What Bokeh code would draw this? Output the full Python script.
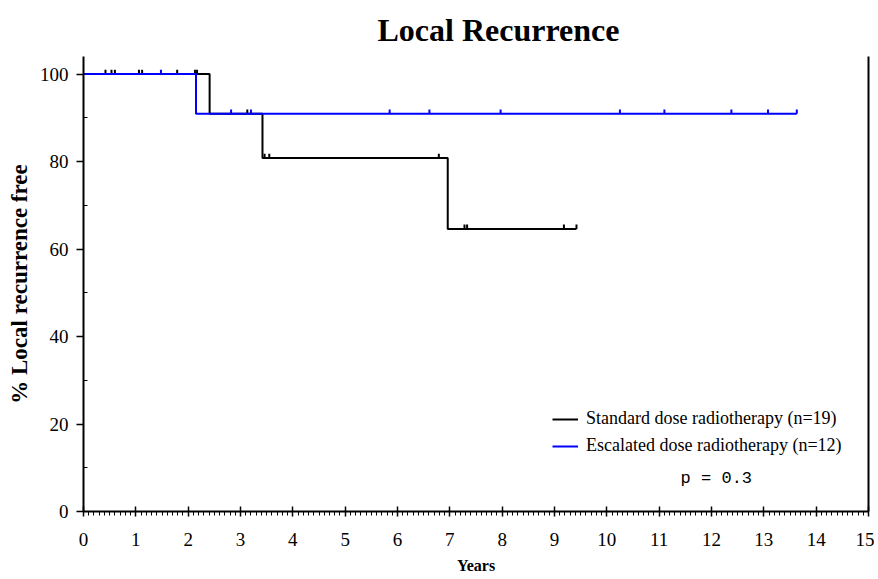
import numpy as np
from bokeh.plotting import figure
from bokeh.models import (Range1d, LinearAxis, Legend, LegendItem, Label, Title,
                          FixedTicker, SingleIntervalTicker)
from bokeh.embed import file_html
from bokeh.resources import INLINE

# ---- data ----
std_times = [0, 2.41, 3.42, 6.96, 9.42]
std_surv = [100, 90.9, 80.8, 64.6, 64.6]
std_cens = [0.42, 0.535, 0.60, 1.06, 1.12, 1.79, 2.13, 2.17, 3.13,
            3.46, 3.55, 6.79, 7.28, 7.33, 9.18, 9.42]

esc_times = [0, 2.15, 13.63]
esc_surv = [100, 90.9, 90.9]
esc_cens = [1.48, 2.82, 3.20, 5.85, 6.61, 7.97, 10.25, 11.10,
            12.38, 13.08, 13.63]

y_ticks = [0, 20, 40, 60, 80, 100]
y_minor = [10, 30, 50, 70, 90]

labels = ["Standard dose radiotherapy (n=19)", "Escalated dose radiotherapy (n=12)"]
colors = ["#000000", "#0000ff"]
title_text = "Local Recurrence"
p_text = "p = 0.3"

SERIF = "Liberation Serif"

p = figure(width=874, height=579, output_backend="svg",
           toolbar_location=None, x_range=Range1d(0, 15), y_range=Range1d(0, 104),
           min_border_left=83, min_border_top=56, min_border_right=6,
           min_border_bottom=68)
p.outline_line_color = None
p.xgrid.visible = False
p.ygrid.visible = False
p.background_fill_color = "white"
p.border_fill_color = "white"

p.title = Title(text=title_text, align="left", offset=294, standoff=18,
                text_font=SERIF, text_font_style="bold",
                text_font_size="32px", text_color="black")


def level_at(times, surv, t):
    i = np.searchsorted(times, t, side="right") - 1
    return surv[i]


renderers = []
for times, surv, cens, col in [(std_times, std_surv, std_cens, colors[0]),
                               (esc_times, esc_surv, esc_cens, colors[1])]:
    r = p.step(times, surv, mode="after", line_color=col, line_width=2)
    renderers.append(r)
    cy = [level_at(times, surv, t) for t in cens]
    tick_len = 1.0
    p.segment(x0=cens, x1=cens, y0=cy, y1=[v + tick_len for v in cy],
              line_color=col, line_width=2)

# axes
xa = p.xaxis[0]
xa.ticker = SingleIntervalTicker(interval=1, num_minor_ticks=10)
xa.axis_label = "Years"
ya = p.yaxis[0]
ya.ticker = FixedTicker(ticks=y_ticks, minor_ticks=y_minor)
ya.axis_label = "% Local recurrence free"

for ax in (xa, ya):
    ax.axis_line_width = 2
    ax.axis_line_color = "black"
    ax.major_tick_line_color = "black"
    ax.minor_tick_line_color = "black"
    ax.major_tick_line_width = 1.5
    ax.minor_tick_line_width = 1
    ax.major_label_text_font = SERIF
    ax.major_label_text_font_size = "19px"
    ax.major_label_text_color = "black"
    ax.axis_label_text_font = SERIF
    ax.axis_label_text_font_style = "bold"
    ax.axis_label_text_color = "black"

xa.major_tick_in = 5
xa.major_tick_out = 5
xa.minor_tick_in = 0
xa.minor_tick_out = 4
xa.major_label_standoff = 16
xa.axis_label_text_font_size = "16px"
xa.axis_label_standoff = 8

ya.major_tick_in = 0
ya.major_tick_out = 7
ya.minor_tick_in = 4
ya.minor_tick_out = 0
ya.major_label_standoff = 8
ya.axis_label_text_font_size = "23px"
ya.axis_label_standoff = 5

# right border as an axis line only (no ticks, no labels)
ra = LinearAxis(ticker=FixedTicker(ticks=[], minor_ticks=[]),
                major_tick_line_color=None, minor_tick_line_color=None,
                major_label_standoff=0,
                axis_line_width=2, axis_line_color="black",
                major_tick_out=0, major_tick_in=0)
p.add_layout(ra, "right")

legend = Legend(items=[LegendItem(label=labels[0], renderers=[renderers[0]]),
                       LegendItem(label=labels[1], renderers=[renderers[1]])],
                location=(469, 55), padding=0, margin=0, spacing=6,
                glyph_width=26, glyph_height=20, label_height=20,
                label_standoff=8, label_text_font=SERIF,
                label_text_font_size="18px", label_text_color="black",
                border_line_color=None, background_fill_alpha=0)
p.add_layout(legend)

p.add_layout(Label(x=11.41, y=7.6, text=p_text, text_font="Liberation Mono",
                   text_font_size="17px", text_baseline="middle",
                   text_align="left", text_color="black"))

open("out.html", "w").write(file_html(p, INLINE))
